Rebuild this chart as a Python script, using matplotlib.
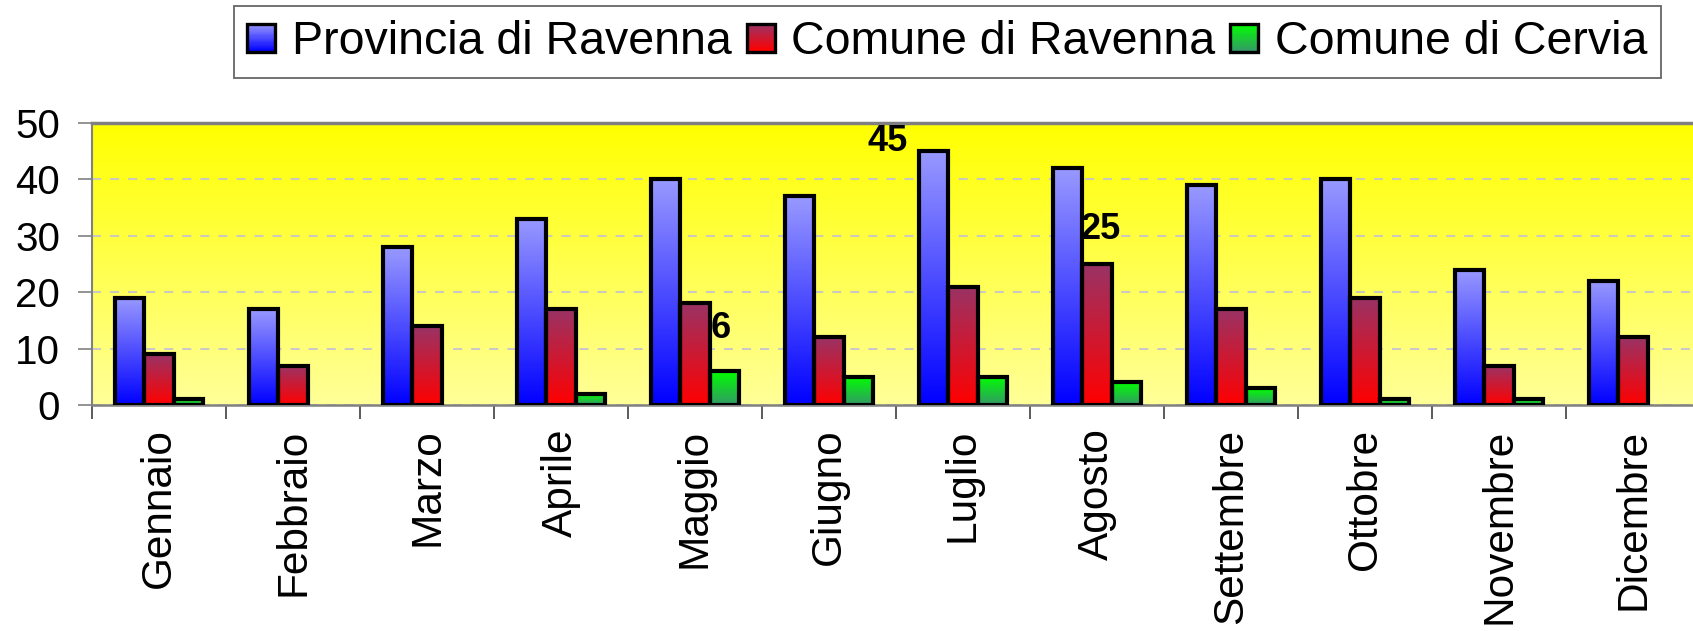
import numpy as np
import matplotlib
matplotlib.use("Agg")
import matplotlib.pyplot as plt
from matplotlib.colors import LinearSegmentedColormap
from matplotlib.patches import Rectangle, Patch
from matplotlib.legend_handler import HandlerBase
from matplotlib.ticker import FixedLocator

plt.rcParams['font.family'] = ['Liberation Sans', 'DejaVu Sans']

months = ["Gennaio", "Febbraio", "Marzo", "Aprile", "Maggio", "Giugno",
          "Luglio", "Agosto", "Settembre", "Ottobre", "Novembre", "Dicembre"]
series_names = ["Provincia di Ravenna", "Comune di Ravenna", "Comune di Cervia"]
provincia = [19, 17, 28, 33, 40, 37, 45, 42, 39, 40, 24, 22]
comune_ravenna = [9, 7, 14, 17, 18, 12, 21, 25, 17, 19, 7, 12]
comune_cervia = [1, 0, 0, 2, 6, 5, 5, 4, 3, 1, 1, 0]
yticks = [0, 10, 20, 30, 40, 50]

# gradient colours (top, bottom) per series
grads = [("#9999FF", "#0000FF"), ("#993366", "#FF0000"), ("#00FF00", "#339966")]

fig = plt.figure(figsize=(16.93, 6.31), dpi=100)
ax = fig.add_axes([92/1693, 1-405/631, 1608/1693, 282/631])

x = np.arange(len(months))
w = 0.22
offsets = [-w, 0, w]
data = [provincia, comune_ravenna, comune_cervia]

# background gradient
bg = LinearSegmentedColormap.from_list("bg", ["#FFFF99", "#FFFF00"])
ax.imshow(np.linspace(0, 1, 256).reshape(-1, 1), extent=(-0.5, 11.5, 0, 50),
          origin="lower", aspect="auto", cmap=bg, zorder=0)

grad = np.linspace(0, 1, 256).reshape(-1, 1)
for vals, off, (top, bot) in zip(data, offsets, grads):
    bars = ax.bar(x + off, vals, width=w, facecolor="none", edgecolor="black",
                  linewidth=3.0, zorder=3)
    cmap = LinearSegmentedColormap.from_list("c", [bot, top])
    for b in bars:
        h = b.get_height()
        if h <= 0:
            b.set_linewidth(0)
            continue
        im = ax.imshow(grad, extent=(b.get_x(), b.get_x() + b.get_width(), 0, h),
                       origin="lower", aspect="auto", cmap=cmap, zorder=2)
        im.set_clip_path(b)

ax.set_xlim(-0.5, 11.5)
ax.set_ylim(0, 50)
ax.set_yticks(yticks)
ax.set_axisbelow(True)
ax.yaxis.grid(True, color="#C4C4D0", linestyle=(0, (5, 5)), linewidth=1.3)

ax.set_xticks(x)
ax.set_xticklabels(months, rotation=90, fontsize=30.5)
ax.xaxis.set_minor_locator(FixedLocator(np.arange(-0.5, 12, 1)))
ax.tick_params(axis="x", which="major", length=0, pad=17)
ax.tick_params(axis="x", which="minor", length=10, width=1.2, color="#404040")
ax.tick_params(axis="y", length=10, width=1.2, color="#808080", labelsize=29, pad=13)

ax.spines["right"].set_visible(False)
ax.spines["top"].set_color("#808080")
ax.spines["top"].set_linewidth(2.5)
ax.spines["left"].set_color("#808080")
ax.spines["left"].set_linewidth(1.5)
ax.spines["bottom"].set_color("#808080")
ax.spines["bottom"].set_linewidth(1.8)

# data labels
ax.text(5.44, 46.7, str(provincia[6]), fontsize=26, fontweight="bold", ha="center", va="center", zorder=5)
ax.text(7.03, 31.1, str(comune_ravenna[7]), fontsize=26, fontweight="bold", ha="center", va="center", zorder=5)
ax.text(4.19, 13.5, str(comune_cervia[4]), fontsize=26, fontweight="bold", ha="center", va="center", zorder=5)


class GradHandler(HandlerBase):
    def __init__(self, top, bot, n=24):
        super().__init__()
        self.cmap = LinearSegmentedColormap.from_list("h", [bot, top])
        self.n = n

    def create_artists(self, legend, orig_handle, xdescent, ydescent, width, height, fontsize, trans):
        s = min(width, height)
        x0 = -xdescent + (width - s) / 2
        y0 = -ydescent + (height - s) / 2
        arts = []
        for k in range(self.n):
            c = self.cmap(k / (self.n - 1))
            arts.append(Rectangle((x0, y0 + s * k / self.n), s, s / self.n * 1.05,
                                  facecolor=c, edgecolor="none", transform=trans))
        arts.append(Rectangle((x0, y0), s, s, facecolor="none", edgecolor="black",
                              linewidth=2.4, transform=trans))
        return arts


proxies = [Patch(label=n) for n in series_names]
hmap = {p: GradHandler(t, b) for p, (t, b) in zip(proxies, grads)}
leg = fig.legend(handles=proxies, handler_map=hmap, loc="upper right",
                 bbox_to_anchor=(1661/1693, 1 - 6/631), bbox_transform=fig.transFigure,
                 ncol=3, fontsize=33.5, frameon=True, fancybox=False, borderaxespad=0,
                 handlelength=0.6, handleheight=0.6, handletextpad=0.35,
                 columnspacing=0.33, borderpad=0.3)
leg.get_frame().set_edgecolor("#404040")
leg.get_frame().set_linewidth(1.3)

fig.savefig("out.png", dpi=100)
